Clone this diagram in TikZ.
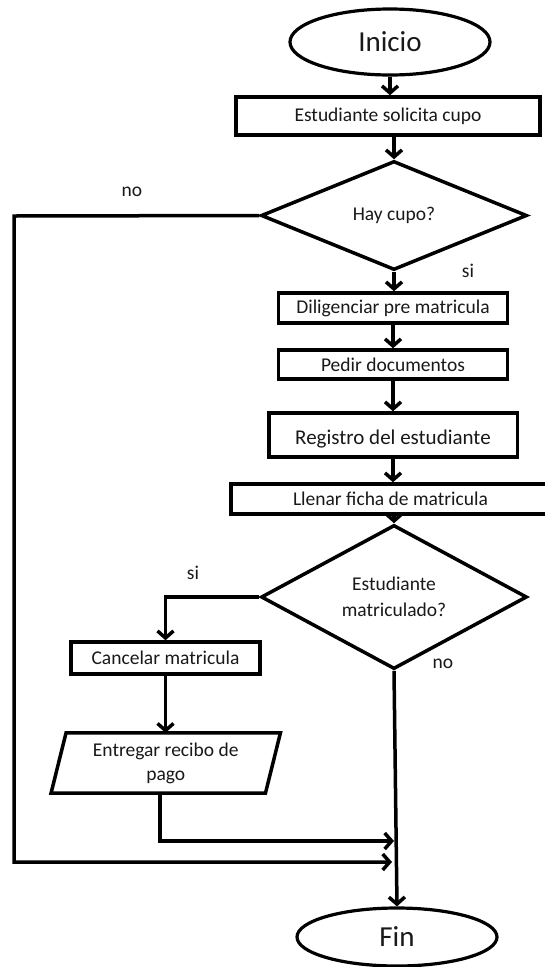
\documentclass[tikz,border=0pt]{standalone}
\usepackage{fontspec}
\setmainfont{Carlito}
\usetikzlibrary{shapes.geometric,arrows.meta}
\begin{document}
\begin{tikzpicture}[x=1pt,y=-1pt,
  every node/.style={inner sep=0pt, text=black!90, font=\fontsize{19.5}{25}\selectfont},
  proc/.style={draw=black, line width=3.5pt, rectangle},
  term/.style={draw=black, line width=3.2pt, ellipse, font=\fontsize{29}{32}\selectfont},
  decision/.style={draw=black, line width=3.5pt, diamond, align=center},
  arr/.style={line width=3.5pt, -{Straight Barb[length=7pt,width=16pt]}},
  lbl/.style={font=\fontsize{19.5}{22}\selectfont}]
\useasboundingbox[fill=white] (0,0) rectangle (545,967);

\node[term, minimum width=200pt, minimum height=66pt] (inicio) at (390,42) {Inicio};
\node[proc, minimum width=304pt, minimum height=38pt] (b1) at (388,116) {Estudiante solicita cupo};
\node[decision, minimum width=266pt, minimum height=109pt] (d1) at (394,215.5) {Hay cupo?};
\node[proc, minimum width=229pt, minimum height=30pt] (b2) at (393,308) {Diligenciar pre matricula};
\node[proc, minimum width=229pt, minimum height=29pt] (b3) at (393,364.5) {Pedir documentos};
\node[proc, minimum width=249pt, minimum height=44pt,
  label={[font=\fontsize{21}{24}\selectfont, yshift=-4pt]center:Registro del estudiante}] (b4) at (393,435) {};
\draw[line width=2.5pt] ([xshift=2.5pt]b4.north west) -- ([xshift=2.5pt]b4.south west);
\node[proc, minimum width=316pt, minimum height=30pt] (b5) at (389,499) {\hspace*{3pt}Llenar ficha de matricula};
\node[decision, minimum width=266pt, minimum height=108pt, font=\fontsize{19.5}{26}\selectfont] (d2) at (394,597) {Estudiante\\matriculado?};
\node[proc, minimum width=189pt, minimum height=32pt] (b6) at (165.5,658) {Cancelar matricula};
\node[align=center, minimum width=214pt, minimum height=60pt, font=\fontsize{19.5}{24}\selectfont] (p1) at (165.75,763) {Entregar recibo de\\pago};
\draw[line width=3.5pt, line join=miter] ([xshift=7.5pt]p1.north west) -- ([xshift=7.5pt]p1.north east)
  -- ([xshift=-7.5pt]p1.south east) -- ([xshift=-7.5pt]p1.south west) -- cycle;
\node[term, minimum width=200pt, minimum height=58pt] (fin) at (397,937) {Fin};

% labels
\node[lbl] (lno1) at (132,192) {no};
\node[lbl] (lsi1) at (468,271) {si};
\node[lbl] (lsi2) at (193,573) {si};
\node[lbl] (lno2) at (443,664) {no};

% coordinates
\coordinate (c1) at (14,216);
\coordinate (c2) at (14,862);
\coordinate (c3) at (160,841);

% connectors
\draw[arr] (inicio.south) -- (inicio.south |- b1.north);
\draw[arr] (b1.south -| d1.north) -- (d1.north);
\draw[arr] (d1.south) -- (d1.south |- b2.north);
\draw[arr] (b2.south) -- (b3.north);
\draw[arr] (b3.south) -- (b4.north);
\draw[arr] (b4.south) -- (b4.south |- b5.north);
\draw[arr] (b5.south -| d2.north) -- (d2.north);
\draw[arr] (d2.south) -- (fin.north);
\draw[arr] (d2.west) -| (b6.north);
\draw[arr] (b6.south) -- (b6.south |- p1.north);
\draw[arr, shorten >=3pt] (p1.south -| c3) -- (c3) -- (c3 -| fin.north);
\draw[arr, shorten >=5pt] (d1.west) -- (c1) -- (c2) -- (c2 -| fin.north);
\end{tikzpicture}
\end{document}
